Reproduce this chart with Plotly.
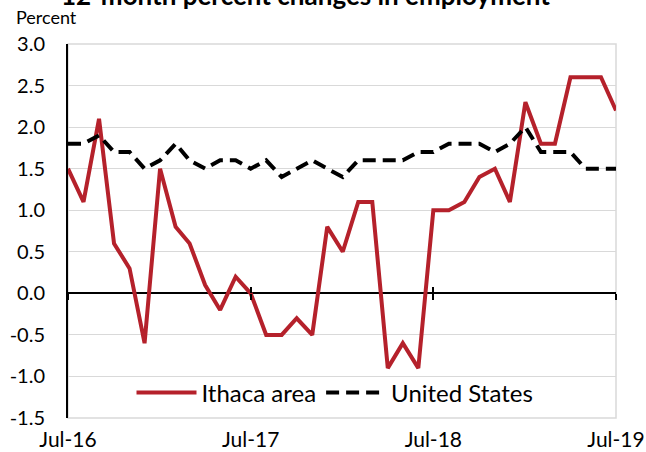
import pandas as pd
import plotly.graph_objects as go

# Monthly observations, Jul-2016 through Jul-2019
months = pd.date_range("2016-07-01", "2019-07-01", freq="MS")

ithaca = [1.5, 1.1, 2.1, 0.6, 0.3, -0.6, 1.5, 0.8, 0.6, 0.1, -0.2, 0.2,
          0.0, -0.5, -0.5, -0.3, -0.5, 0.8, 0.5, 1.1, 1.1, -0.9, -0.6, -0.9,
          1.0, 1.0, 1.1, 1.4, 1.5, 1.1, 2.3, 1.8, 1.8, 2.6, 2.6, 2.6, 2.2]

united_states = [1.8, 1.8, 1.9, 1.7, 1.7, 1.5, 1.6, 1.8, 1.6, 1.5, 1.6, 1.6,
                 1.5, 1.6, 1.4, 1.5, 1.6, 1.5, 1.4, 1.6, 1.6, 1.6, 1.6, 1.7,
                 1.7, 1.8, 1.8, 1.8, 1.7, 1.8, 2.0, 1.7, 1.7, 1.7, 1.5, 1.5, 1.5]

tick_dates = ["2016-07-01", "2017-07-01", "2018-07-01", "2019-07-01"]
tick_text = ["Jul-16", "Jul-17", "Jul-18", "Jul-19"]
y_ticks = [-1.5, -1.0, -0.5, 0.0, 0.5, 1.0, 1.5, 2.0, 2.5, 3.0]

FONT = "Lato"
RED = "#B5212B"
PLOT_W, PLOT_H = 548, 374  # plot area size in px

fig = go.Figure()
fig.add_trace(go.Scatter(x=months, y=ithaca, mode="lines", name="Ithaca area",
                         line=dict(color=RED, width=4)))
fig.add_trace(go.Scatter(x=months, y=united_states, mode="lines", name="United States",
                         line=dict(color="black", width=4, dash="13px,7px")))

x_range = [months[0], months[-1]]

# Tick marks crossing the zero line (one axis draws them upward, one downward)
for name, side in (("xaxis2", "outside"), ("xaxis3", "inside")):
    fig.add_trace(go.Scatter(x=[months[0]], y=[None], xaxis="x" + name[-1],
                             showlegend=False, hoverinfo="skip"))
    fig.layout[name] = dict(overlaying="x", anchor="free", position=1 / 3,
                            range=x_range, type="date", tickvals=tick_dates,
                            ticks=side, ticklen=6, tickwidth=1.5, tickcolor="black",
                            showticklabels=False, showgrid=False, showline=False,
                            zeroline=False, automargin=False)

fig.update_layout(
    width=646, height=452,
    margin=dict(l=68, r=30, t=44, b=34, autoexpand=False),
    paper_bgcolor="white", plot_bgcolor="white",
    font=dict(family=FONT, color="black"),
    xaxis=dict(type="date", range=x_range, tickvals=tick_dates, ticktext=tick_text,
               ticks="", showgrid=False, showline=False, zeroline=False,
               tickfont=dict(size=21), ticklabelstandoff=7, automargin=False),
    yaxis=dict(range=[-1.5, 3.0], tickvals=y_ticks,
               ticktext=[f"{v:.1f}" for v in y_ticks],
               tickfont=dict(size=20), showgrid=True, gridcolor="#D9D9D9",
               gridwidth=1.3, showline=True, linecolor="black", linewidth=2,
               zeroline=True, zerolinecolor="black", zerolinewidth=2,
               ticks="", ticklabelstandoff=17, automargin=False),
    legend=dict(orientation="h", x=(335 - 68) / PLOT_W, xanchor="center",
                y=(418 - 393) / PLOT_H, yanchor="middle", font=dict(size=24),
                bgcolor="rgba(0,0,0,0)", itemwidth=60, traceorder="normal"),
    shapes=[dict(type="rect", xref="paper", yref="paper", x0=0, x1=1, y0=0, y1=1,
                 line=dict(color="#D9D9D9", width=1.5), layer="below")],
    annotations=[
        dict(text="<b>12-month percent changes in employment</b>",
             xref="paper", yref="paper", x=(305 - 68) / PLOT_W,
             y=1 + (44 - 13) / PLOT_H, xanchor="center", yanchor="bottom",
             showarrow=False, font=dict(size=26, family=FONT)),
        dict(text="Percent", xref="paper", yref="paper", x=(14 - 68) / PLOT_W,
             y=1 + (44 - 17) / PLOT_H, xanchor="left", yanchor="middle",
             showarrow=False, font=dict(size=18, family=FONT)),
    ],
)

fig.write_html("out.html")
